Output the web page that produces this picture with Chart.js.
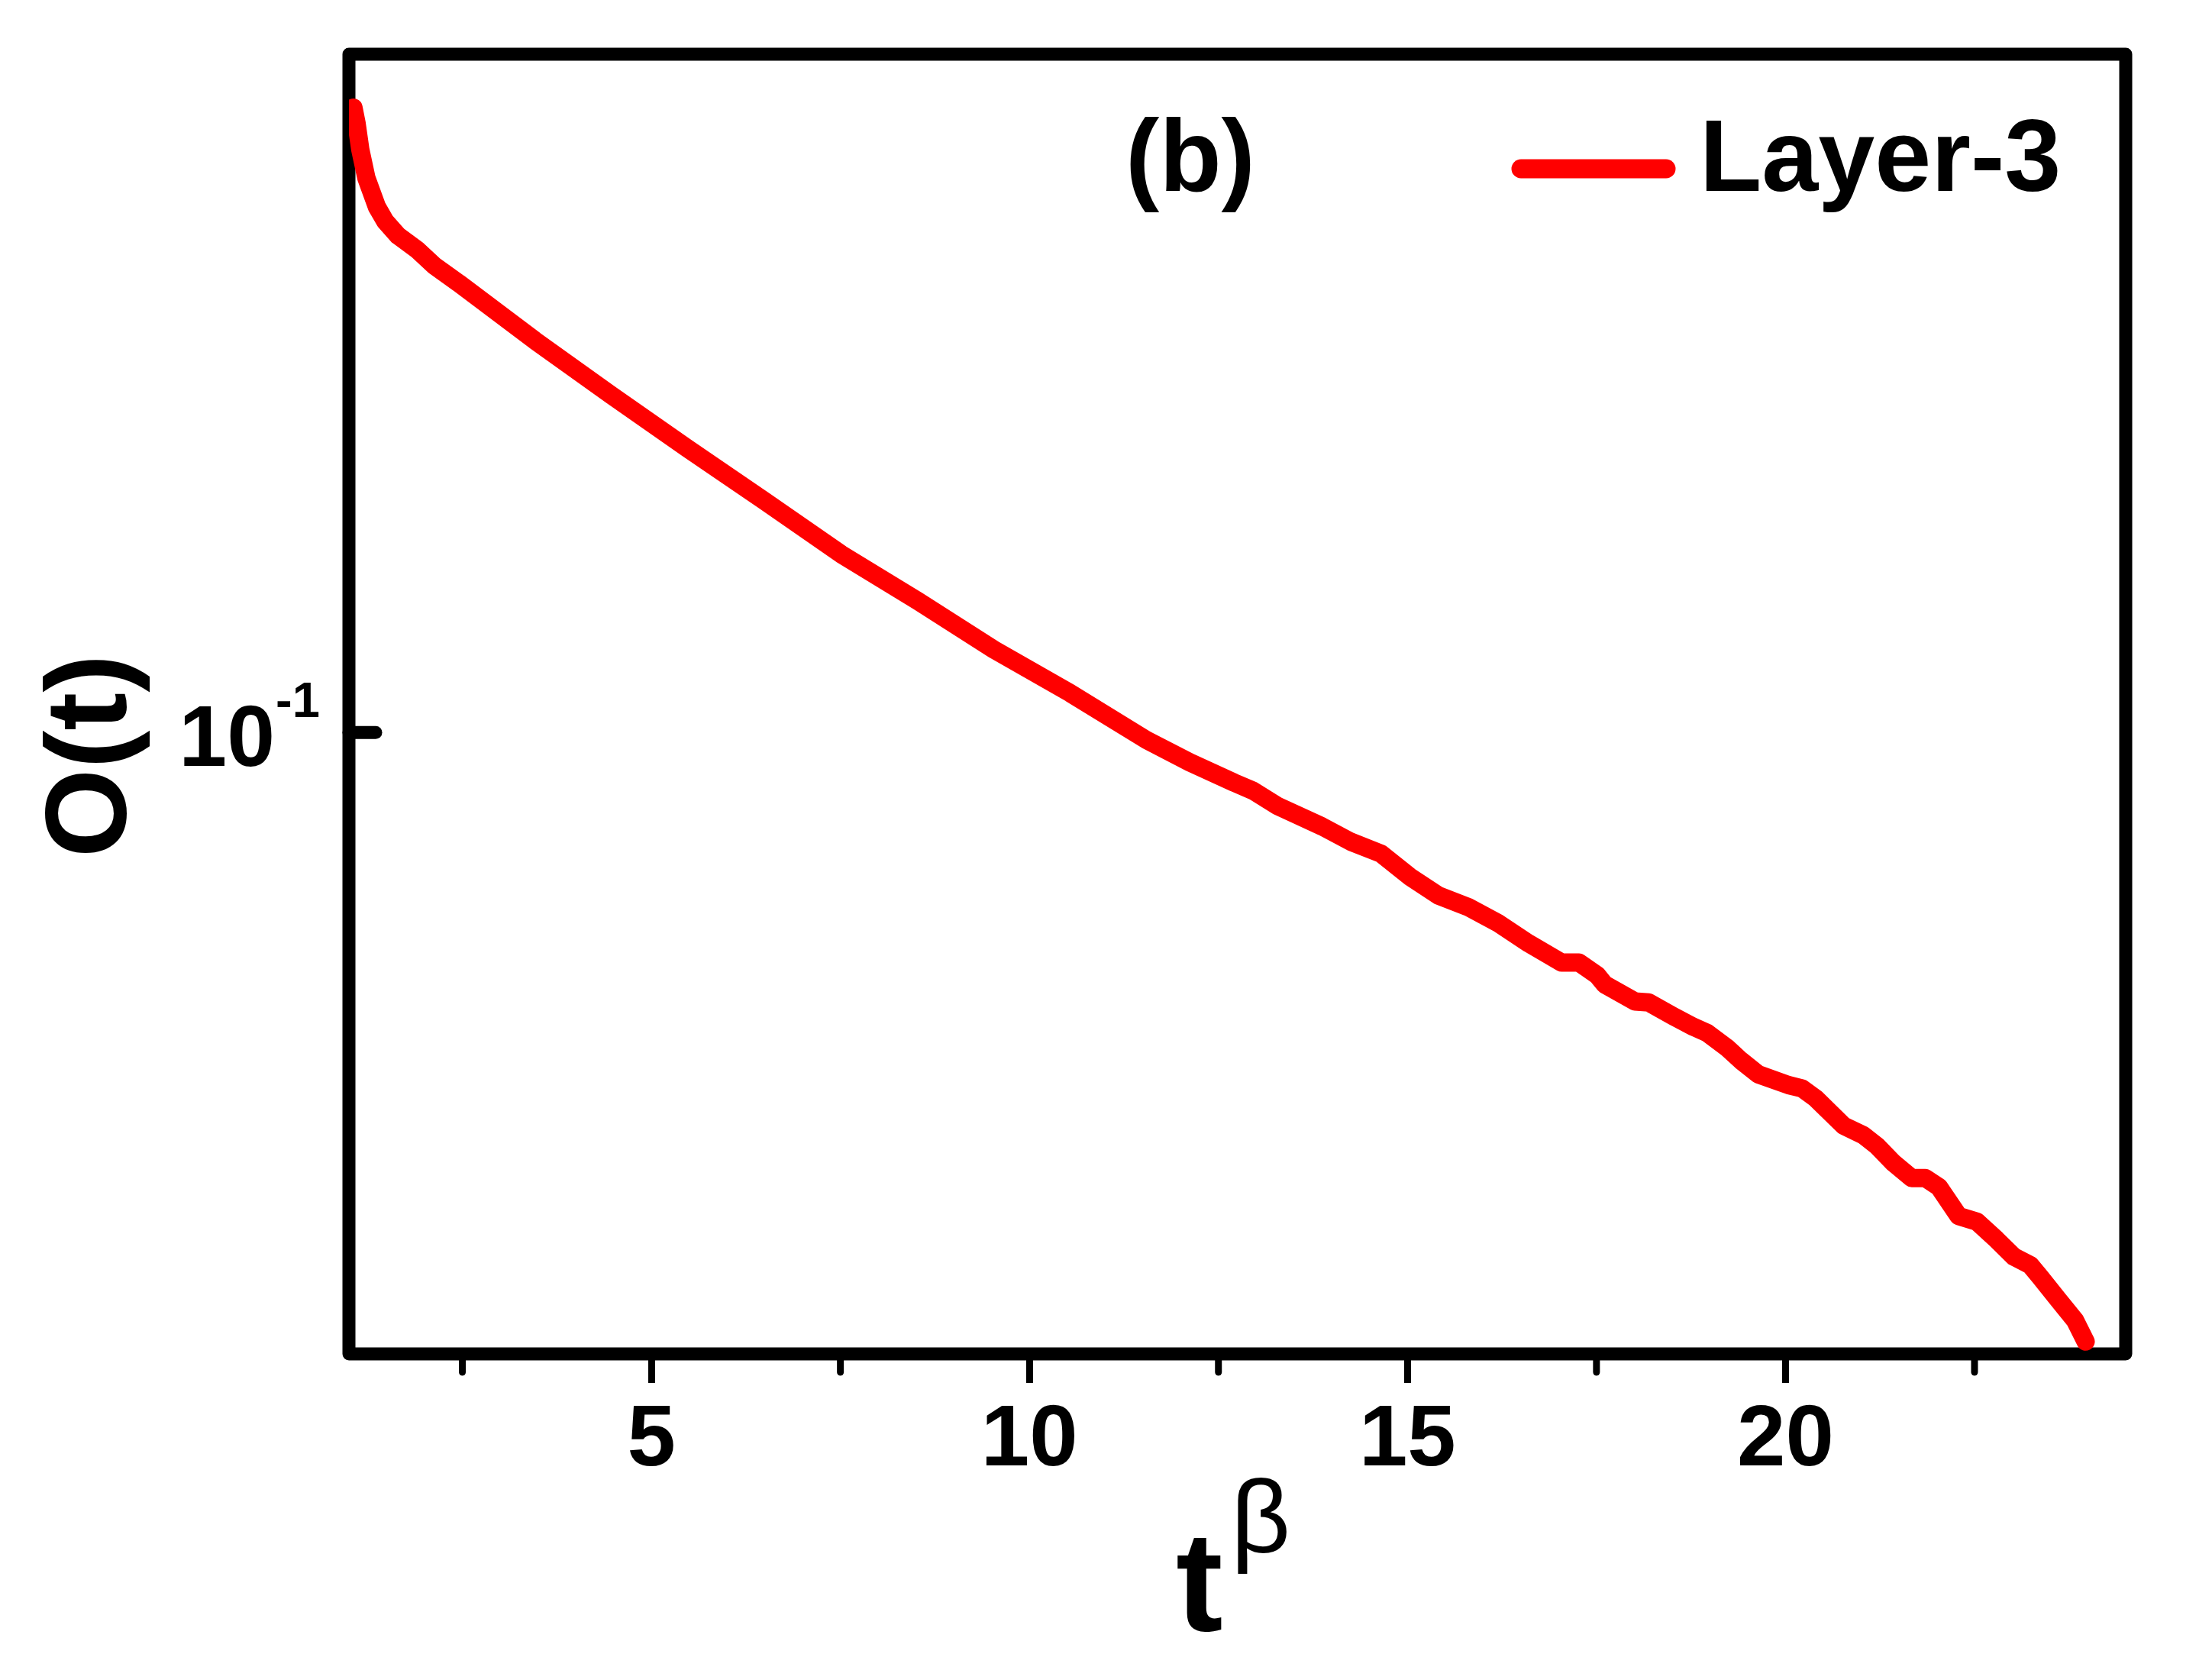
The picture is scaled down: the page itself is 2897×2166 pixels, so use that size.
<!DOCTYPE html>
<html>
<head>
<meta charset="utf-8">
<script src="https://cdn.jsdelivr.net/npm/chart.js@4.4.1/dist/chart.umd.min.js"></script>
<style>
  html, body { margin: 0; padding: 0; background: #fff; }
  #wrap { width: 2897px; height: 2166px; }
</style>
</head>
<body>
<div id="wrap"><canvas id="decay-chart_" width="2897" height="2166"></canvas></div>
<script>
// values
const tBeta = [1.06, 1.10, 1.15, 1.23, 1.37, 1.48, 1.65, 1.91, 2.13, 2.45, 3.46, 4.47, 5.48, 6.49, 7.51,
  8.52, 9.53, 10.54, 11.55, 12.12, 12.71, 12.96, 13.28, 13.87, 14.25, 14.65, 15.03, 15.41, 15.80,
  16.19, 16.60, 17.04, 17.27, 17.51, 17.61, 18.01, 18.19, 18.51, 18.78, 18.96, 19.23, 19.41, 19.64,
  20.04, 20.22, 20.40, 20.77, 21.03, 21.21, 21.43, 21.67, 21.85, 22.03, 22.29, 22.53, 22.79, 23.02,
  23.24, 23.37, 23.61, 23.83, 23.97];
const layer3 = [0.2751, 0.2684, 0.2571, 0.2456, 0.2343, 0.2289, 0.2236, 0.2184, 0.2130, 0.2071, 0.1887,
  0.1727, 0.1584, 0.1456, 0.1335, 0.1238, 0.1144, 0.1066, 0.0988, 0.0953, 0.0922, 0.0910, 0.0888,
  0.0859, 0.0838, 0.0822, 0.0792, 0.0768, 0.0754, 0.0735, 0.0711, 0.0689, 0.0689, 0.0675, 0.0665,
  0.0647, 0.0646, 0.0632, 0.0621, 0.0615, 0.0600, 0.0588, 0.0575, 0.0565, 0.0562, 0.0553, 0.0529,
  0.0521, 0.0512, 0.0498, 0.0486, 0.0486, 0.0479, 0.0457, 0.0453, 0.0440, 0.0428, 0.0422, 0.0414,
  0.0399, 0.0386, 0.0373];

const xTickValues = [5, 10, 15, 20];
const xMinorTicks = [2.5, 7.5, 12.5, 17.5, 22.5];
const yTickValues = [0.1];
const xMin = 1, xMax = 24.5;
const yMin = 0.03656, yMax = 0.3;

const FONT = '"Liberation Sans", Arial, sans-serif';

const decor = {
    id: 'decor',
    beforeDatasetsDraw(chart) {
        const {ctx, chartArea: a, scales: {x, y}} = chart;
        ctx.save();
        ctx.strokeStyle = '#000';
        ctx.lineWidth = 17;
        ctx.lineJoin = 'round';
        ctx.strokeRect(a.left, a.top, a.right - a.left, a.bottom - a.top);

        // short minor ticks below the frame
        ctx.lineWidth = 9;
        ctx.lineCap = 'round';
        xMinorTicks.forEach(v => {
            const px = x.getPixelForValue(v);
            ctx.beginPath();
            ctx.moveTo(px, a.bottom);
            ctx.lineTo(px, a.bottom + 24);
            ctx.stroke();
        });

        // y tick points into the plot
        ctx.lineWidth = 17;
        yTickValues.forEach(v => {
            const py = y.getPixelForValue(v);
            ctx.beginPath();
            ctx.moveTo(a.left, py);
            ctx.lineTo(a.left + 35, py);
            ctx.stroke();
        });
        ctx.restore();
    },
    afterDraw(chart) {
        const {ctx, scales: {y}} = chart;
        ctx.save();
        ctx.fillStyle = '#000';

        // 10^-1 label
        yTickValues.forEach(v => {
            const py = y.getPixelForValue(v);
            const exp = Math.round(Math.log10(v));
            ctx.font = 'bold 113px ' + FONT;
            ctx.textAlign = 'right';
            ctx.textBaseline = 'alphabetic';
            ctx.fillText('10', 360, py + 44);
            ctx.font = 'bold 65px ' + FONT;
            ctx.textAlign = 'left';
            ctx.fillText(String(exp), 361, py - 20);
        });

        // y title
        ctx.save();
        ctx.translate(165, 990);
        ctx.rotate(-Math.PI / 2);
        ctx.font = 'bold 150px ' + FONT;
        ctx.textAlign = 'center';
        ctx.textBaseline = 'alphabetic';
        ctx.fillText('O(t)', 0, 0);
        ctx.restore();

        // x title t^β
        ctx.textAlign = 'left';
        ctx.font = 'bold 185px ' + FONT;
        ctx.fillText('t', 1540, 2135);
        ctx.font = '136px ' + FONT;
        ctx.fillText('β', 1612, 2033);

        // panel label
        ctx.font = 'bold 133px ' + FONT;
        ctx.textAlign = 'center';
        ctx.fillText('(b)', 1559, 250);

        // legend
        const ds = chart.data.datasets[0];
        ctx.strokeStyle = ds.borderColor;
        ctx.lineWidth = 25;
        ctx.lineCap = 'round';
        ctx.beginPath();
        ctx.moveTo(1992, 221);
        ctx.lineTo(2182, 221);
        ctx.stroke();
        ctx.textAlign = 'left';
        ctx.fillText(ds.label, 2226, 250);
        ctx.restore();
    }
};

const ctx1 = document.getElementById('decay-chart_');
new Chart(ctx1, {
    type: 'line',
    data: {
        datasets: [
            {
                label: 'Layer-3',
                data: tBeta.map((t, i) => ({x: t, y: layer3[i]})),
                borderColor: '#ff0000',
                borderWidth: 24,
                borderCapStyle: 'round',
                borderJoinStyle: 'round',
                pointRadius: 0,
                tension: 0,
                fill: false,
                clip: 0
            }
        ]
    },
    options: {
        responsive: false,
        animation: false,
        devicePixelRatio: 1,
        layout: {
            padding: {top: 71, right: 113, left: 0, bottom: 0}
        },
        scales: {
            x: {
                type: 'linear',
                min: xMin,
                max: xMax,
                afterBuildTicks: s => { s.ticks = xTickValues.map(v => ({value: v})); },
                afterFit: s => { s.height = 2166 - 1773; },
                ticks: {
                    color: '#000',
                    font: {family: FONT, size: 114, weight: 'bold'},
                    padding: 8,
                    maxRotation: 0
                },
                grid: {
                    drawOnChartArea: false,
                    drawTicks: true,
                    tickLength: 38,
                    lineWidth: 9,
                    color: '#000'
                },
                border: {display: false}
            },
            y: {
                type: 'logarithmic',
                min: yMin,
                max: yMax,
                afterFit: s => { s.width = 457; },
                ticks: {display: false},
                grid: {display: false},
                border: {display: false}
            }
        },
        plugins: {
            legend: {display: false},
            tooltip: {enabled: false}
        }
    },
    plugins: [decor]
});
</script>
</body>
</html>
